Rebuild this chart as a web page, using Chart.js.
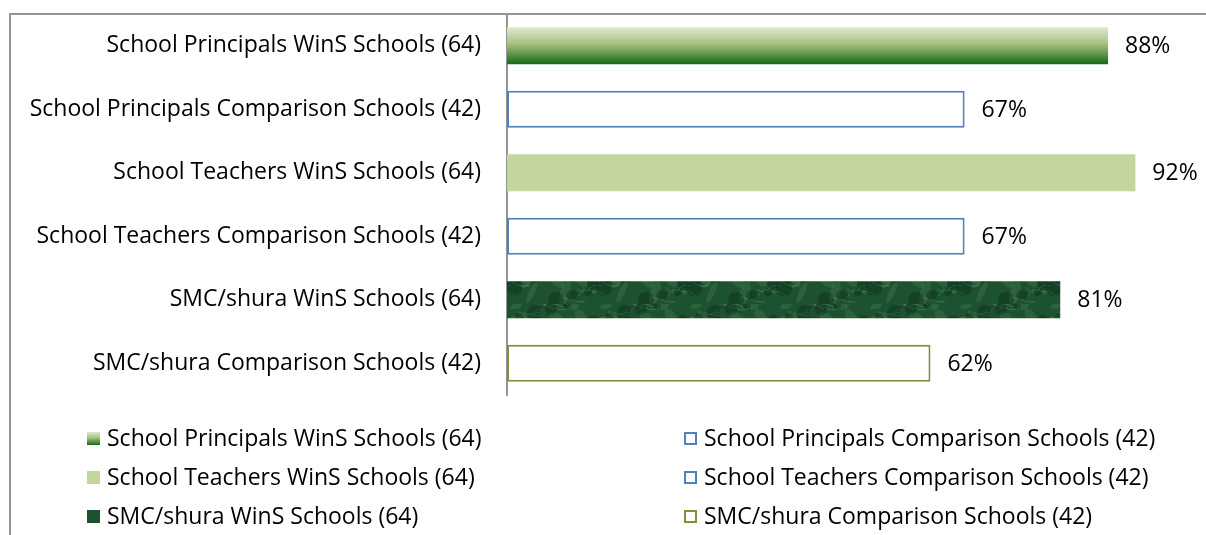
<!DOCTYPE html>
<html>
<head>
<meta charset="utf-8">
<script src="https://cdn.jsdelivr.net/npm/chart.js@4.4.1/dist/chart.umd.min.js"></script>
<style>
  html, body { margin: 0; padding: 0; background: #fff; }
  #wrap { position: relative; width: 1206px; height: 535px; overflow: hidden; }
  #frame { position: absolute; left: 9px; top: 13px; width: 1220px; height: 600px;
           border-top: 2px solid #959595; border-left: 2px solid #959595; }
  canvas { position: absolute; left: 0; top: 0; }
  #legend { position: absolute; left: 0; top: 0; font-family: "Open Sans", sans-serif; font-size: 23px; color: #000; }
  .item { position: absolute; white-space: nowrap; line-height: 26px; }
  .mark { position: absolute; width: 13px; height: 13px; box-sizing: border-box; }
</style>
</head>
<body>
<div id="wrap">
  <div id="frame"></div>
  <canvas id="chart" width="1206" height="535"></canvas>
  <div id="legend"></div>
</div>
<script>
const categories = [
  'School Principals WinS Schools (64)',
  'School Principals Comparison Schools (42)',
  'School Teachers WinS Schools (64)',
  'School Teachers Comparison Schools (42)',
  'SMC/shura WinS Schools (64)',
  'SMC/shura Comparison Schools (42)'
];
const percentValues = [88, 67, 92, 67, 81, 62];
const legendOrder = [0, 1, 2, 3, 4, 5];

const FONT = '"Open Sans", sans-serif';
const FONT_SIZE = 23;

// dark mottled texture for the SMC/shura WinS bar
function makeTexture() {
  const c = document.createElement('canvas');
  c.width = 90; c.height = 38;
  const g = c.getContext('2d');
  g.fillStyle = '#1d5230';
  g.fillRect(0, 0, 90, 38);
  g.fillStyle = 'rgba(70,130,85,0.35)';
  for (let k = 0; k < 8; k++) {
    g.beginPath();
    g.ellipse((k * 41) % 90, (k * 13) % 38, 6 + (k % 3) * 3, 3 + (k % 2) * 2, k, 0, Math.PI * 2);
    g.fill();
  }
  g.strokeStyle = 'rgba(120,180,130,0.35)';
  g.lineWidth = 1;
  for (let k = 0; k < 18; k++) {
    const x0 = (k * 37) % 90, y0 = (k * 23) % 38;
    g.beginPath();
    g.moveTo(x0, y0);
    g.quadraticCurveTo(x0 + 6, y0 + 8 * Math.sin(k), x0 + 14, y0 + 5 * Math.cos(k * 2));
    g.stroke();
  }
  g.fillStyle = 'rgba(8,35,18,0.35)';
  for (let k = 0; k < 10; k++) {
    g.beginPath();
    g.arc((k * 53) % 90, (k * 17) % 38, 4 + (k % 3) * 2, 0, Math.PI * 2);
    g.fill();
  }
  return c;
}
const texture = makeTexture();

function gradientFor(chart, index, half) {
  const y = chart.scales.y ? chart.scales.y.getPixelForValue(index) : NaN;
  if (!isFinite(y)) return '#6a9a4a';
  const grad = chart.ctx.createLinearGradient(0, y - half, 0, y + half);
  grad.addColorStop(0, '#dfe9d0');
  grad.addColorStop(0.45, '#a6c17e');
  grad.addColorStop(1, '#16691a');
  return grad;
}

const styles = [
  { fill: 'gradient', border: null },
  { fill: '#ffffff', border: '#4f81bd' },
  { fill: '#c3d69b', border: null },
  { fill: '#ffffff', border: '#4f81bd' },
  { fill: 'texture', border: null },
  { fill: '#ffffff', border: '#77933c' }
];

const datasets = categories.map((label, i) => ({
  label,
  data: categories.map((_, j) => (j === i ? percentValues[i] : null)),
  backgroundColor: ctx => {
    const chart = ctx.chart;
    if (styles[i].fill === 'gradient') return gradientFor(chart, i, 18.5);
    if (styles[i].fill === 'texture') return chart.ctx.createPattern(texture, 'repeat');
    return styles[i].fill;
  },
  borderColor: styles[i].border || 'rgba(0,0,0,0)',
  borderWidth: styles[i].border ? 2 : 0,
  borderSkipped: false,
  grouped: false,
  categoryPercentage: 1,
  barPercentage: 0.58
}));

const valueLabels = {
  id: 'valueLabels',
  afterDatasetsDraw(chart) {
    const { ctx } = chart;
    ctx.save();
    ctx.font = `${FONT_SIZE}px ${FONT}`;
    ctx.fillStyle = '#000';
    ctx.textAlign = 'left';
    ctx.textBaseline = 'middle';
    percentValues.forEach((v, i) => {
      const x = chart.scales.x.getPixelForValue(v);
      const y = chart.scales.y.getPixelForValue(i);
      ctx.fillText(`${v}%`, x + 17, y + 1);
    });
    ctx.restore();
  }
};

new Chart(document.getElementById('chart'), {
  type: 'bar',
  data: { labels: categories, datasets },
  options: {
    indexAxis: 'y',
    responsive: false,
    animation: false,
    layout: { padding: { top: 14, right: 16, bottom: 140, left: 0 } },
    scales: {
      x: { display: false, min: 0, max: 100 },
      y: {
        grid: { display: false, drawTicks: false },
        border: { display: true, color: '#959595', width: 2 },
        ticks: { color: '#000', padding: 26, font: { family: FONT, size: FONT_SIZE } },
        afterFit: scale => {
          scale.width = 507;
          scale.paddingTop = 0;
          scale.paddingBottom = 0;
        }
      }
    },
    plugins: {
      legend: { display: false },
      tooltip: { enabled: false }
    }
  },
  plugins: [valueLabels]
});

// legend: two columns, three rows
const legendEl = document.getElementById('legend');
const colX = [87, 684];
const rowY = [438, 477, 516];
legendOrder.forEach((i, n) => {
  const col = n % 2, row = Math.floor(n / 2);
  const mark = document.createElement('div');
  mark.className = 'mark';
  mark.style.left = colX[col] + 'px';
  mark.style.top = (rowY[row] - 6) + 'px';
  const s = styles[i];
  if (s.fill === 'gradient') mark.style.background = 'linear-gradient(#dfe9d0, #a6c17e 45%, #16691a)';
  else if (s.fill === 'texture') mark.style.background = '#1d5230';
  else mark.style.background = s.fill;
  if (s.border) mark.style.border = '2px solid ' + s.border;
  legendEl.appendChild(mark);

  const item = document.createElement('div');
  item.className = 'item';
  item.textContent = categories[i];
  item.style.left = (colX[col] + 20) + 'px';
  item.style.top = (rowY[row] - 14) + 'px';
  legendEl.appendChild(item);
});
</script>
</body>
</html>
